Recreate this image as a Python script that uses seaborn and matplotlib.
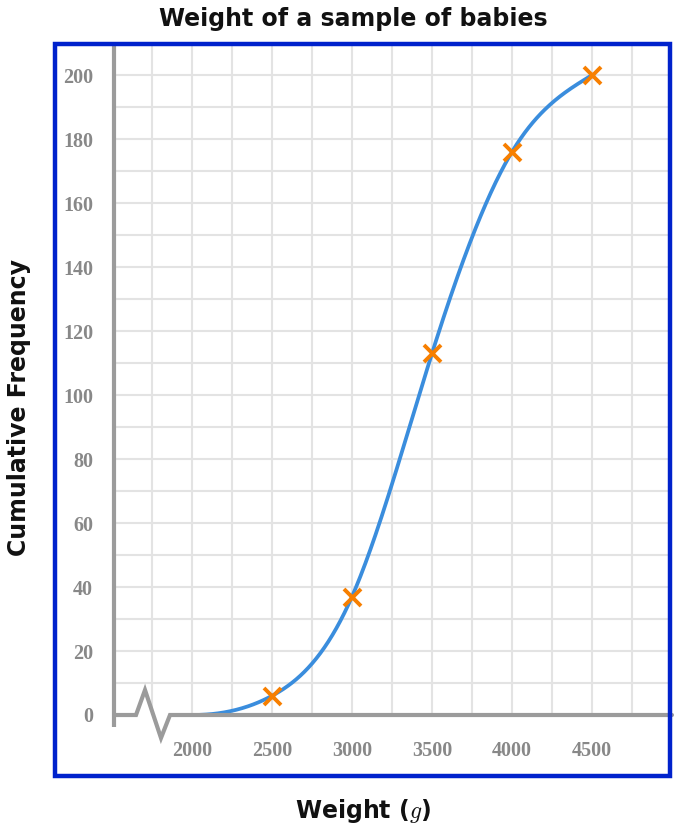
import numpy as np
import pandas as pd
import matplotlib
matplotlib.use("Agg")
import matplotlib.pyplot as plt
import matplotlib.patches as mpatches
import seaborn as sns

# ---- data ----
upper_bounds = [2500, 3000, 3500, 4000, 4500]
cum_freq = [6, 37, 113, 176, 200]
start_bound = 2000
start_freq = 0
x_tick_labels = ["2000", "2500", "3000", "3500", "4000", "4500"]
y_tick_labels = ["0", "20", "40", "60", "80", "100", "120", "140", "160", "180", "200"]

title = "Weight of a sample of babies"
xlabel = "Weight ($g$)"
ylabel = "Cumulative Frequency"

# ---- smooth curve through the points: cubic spline, flat start, natural end ----
def spline(xk, yk, xn):
    xk = np.asarray(xk, float); yk = np.asarray(yk, float)
    n = len(xk)
    h = np.diff(xk); d = np.diff(yk) / h
    A = np.zeros((n, n)); b = np.zeros(n)
    A[0, 0] = 1.0; b[0] = 0.0                      # clamped start slope 0
    for i in range(1, n - 1):
        A[i, i - 1] = h[i]
        A[i, i] = 2 * (h[i - 1] + h[i])
        A[i, i + 1] = h[i - 1]
        b[i] = 3 * (h[i] * d[i - 1] + h[i - 1] * d[i])
    A[-1, -2] = 1.0; A[-1, -1] = 2.0; b[-1] = 3 * d[-1]   # natural end
    m = np.linalg.solve(A, b)
    idx = np.clip(np.searchsorted(xk, xn) - 1, 0, n - 2)
    t = (xn - xk[idx]) / h[idx]
    h00 = 2 * t**3 - 3 * t**2 + 1; h10 = t**3 - 2 * t**2 + t
    h01 = -2 * t**3 + 3 * t**2; h11 = t**3 - t**2
    return (h00 * yk[idx] + h10 * h[idx] * m[idx] + h01 * yk[idx + 1]
            + h11 * h[idx] * m[idx + 1])

xk = [start_bound] + upper_bounds
yk = [start_freq] + cum_freq
xs = np.linspace(xk[0], xk[-1], 400)
curve = pd.DataFrame({"x": xs, "y": spline(xk, yk, xs)})
pts = pd.DataFrame({"x": upper_bounds, "y": cum_freq})

# ---- figure ----
sns.set_theme(style="white")
plt.rcParams["font.family"] = ["DejaVu Sans"]
plt.rcParams["mathtext.fontset"] = "cm"

W, H = 676, 832
fig = plt.figure(figsize=(W / 100, H / 100), dpi=100)
ax = fig.add_axes([114 / W, (H - 715) / H, (672 - 114) / W, (715 - 45) / H])

XMIN, XMAX = 1512.5, 5000
YMIN, YMAX = 0, 209.4
ax.set_xlim(XMIN, XMAX)
ax.set_ylim(YMIN, YMAX)

grid_c = "#e3e3e3"
axis_c = "#9b9b9b"
for gx in np.arange(1750, 4751, 250):
    ax.axvline(gx, color=grid_c, lw=1.5, zorder=0)
for gy in np.arange(10, 201, 10):
    ax.axhline(gy, color=grid_c, lw=1.5, zorder=0)

sns.lineplot(data=curve, x="x", y="y", ax=ax, color="#3a8ddd", lw=2.7,
             zorder=3, sort=False)
sns.scatterplot(data=pts, x="x", y="y", ax=ax, marker="x", s=150,
                color="#f77f00", linewidth=2.8, zorder=4)

for s in ax.spines.values():
    s.set_visible(False)

# axes lines (with break on x-axis)
px = (XMAX - XMIN) / (672 - 114)   # data units per pixel (x)
py = YMAX / (715 - 45)             # data units per pixel (y)
ax.plot([XMIN, XMIN], [-12 * py, YMAX], color=axis_c, lw=3, clip_on=False,
        zorder=5, solid_capstyle="butt")
bx = lambda p: XMIN + (p - 114) * px
ax.plot([XMIN, bx(136), bx(145), bx(161), bx(170), XMAX],
        [0, 0, 25 * py, -23 * py, 0, 0], color=axis_c, lw=3, clip_on=False,
        zorder=5, solid_joinstyle="miter")

# ticks
xt = np.arange(2000, 4751, 250)
ax.set_xticks(xt)
lab_iter = iter(x_tick_labels)
ax.set_xticklabels([next(lab_iter) if v % 500 == 0 else "" for v in xt])
ax.set_yticks(np.arange(0, 201, 20))
ax.set_yticklabels(y_tick_labels)
ax.tick_params(axis="both", direction="inout", length=16, width=2.2,
               color=axis_c, labelcolor="#888888")
ax.tick_params(axis="x", pad=11)
ax.tick_params(axis="y", pad=7)
for lab in ax.get_xticklabels() + ax.get_yticklabels():
    lab.set_fontfamily("Liberation Serif")
    lab.set_fontweight("bold")
    lab.set_fontsize(14.5)
ax.set_xlabel("")
ax.set_ylabel("")

# frame
fig.patches.append(mpatches.Rectangle((55 / W, (H - 776) / H), (670 - 55) / W,
                                      (776 - 44) / H, transform=fig.transFigure,
                                      fill=False, edgecolor="#0022cc", lw=3.2,
                                      zorder=10))

fig.text(353 / W, 1 - 19 / H, title, ha="center", va="center",
         fontsize=17, fontweight="bold", color="#111111")
fig.text(363 / W, 1 - 811 / H, xlabel, ha="center", va="center",
         fontsize=17, fontweight="bold", color="#111111")
fig.text(19 / W, 1 - 408 / H, ylabel, ha="center", va="center",
         rotation=90, fontsize=17, fontweight="bold", color="#111111")

fig.savefig("out.png", dpi=100)
